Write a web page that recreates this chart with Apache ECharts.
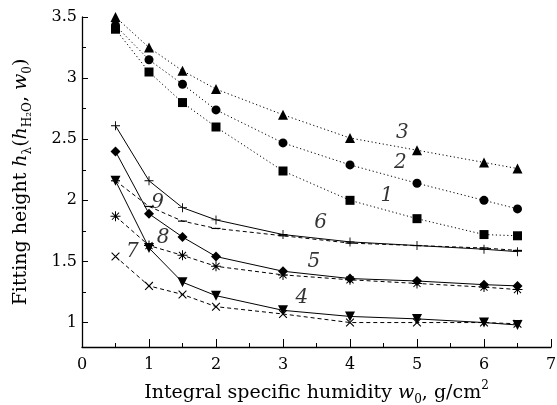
<!DOCTYPE html>
<html>
<head>
<meta charset="utf-8">
<script src="https://cdn.jsdelivr.net/npm/echarts@6/dist/echarts.min.js"></script>
<style>
  html, body { margin: 0; padding: 0; background: #fff; }
  #box { width: 557px; height: 405px; }
</style>
</head>
<body>
<div id="box"></div>
<script>
// humidity values w0 (shared by all curves)
const w0 = [0.5, 1, 1.5, 2, 3, 4, 5, 6, 6.5];

// fitting heights, curves 1..9
const curve1 = [3.40, 3.05, 2.80, 2.60, 2.24, 2.00, 1.85, 1.72, 1.71];
const curve2 = [3.43, 3.15, 2.95, 2.74, 2.47, 2.29, 2.14, 2.00, 1.93];
const curve3 = [3.50, 3.25, 3.06, 2.91, 2.70, 2.51, 2.41, 2.31, 2.26];
const curve4 = [2.16, 1.61, 1.33, 1.22, 1.10, 1.05, 1.03, 1.00, 0.98];
const curve5 = [2.40, 1.89, 1.70, 1.54, 1.42, 1.36, 1.34, 1.31, 1.30];
const curve6 = [2.61, 2.16, 1.94, 1.84, 1.72, 1.66, 1.63, 1.60, 1.58];
const curve7 = [1.54, 1.30, 1.23, 1.13, 1.07, 1.00, 1.00, 1.00, 0.99];
const curve8 = [1.87, 1.63, 1.55, 1.46, 1.39, 1.35, 1.32, 1.29, 1.27];
const curve9 = [2.16, 1.95, 1.83, 1.77, 1.71, 1.65, 1.63, 1.61, 1.59];

// curve numbers written on the plot: [text, w0, height]
const curveLabels = [
  ["1", 4.55, 2.04], ["2", 4.75, 2.31], ["3", 4.78, 2.55],
  ["4", 3.28, 1.20], ["5", 3.46, 1.50], ["6", 3.56, 1.82],
  ["7", 0.75, 1.58], ["8", 1.21, 1.69], ["9", 1.13, 1.98]
];

// y ticks
const yLabelTicks = [1, 1.5, 2, 2.5, 3, 3.5];
const yMinorTicks = [1.25, 1.75, 2.25, 2.75, 3.25];

const FONT = "DejaVu Serif";

// marker shapes
const PLUS = "path://M0,9H20V11H0Z M9,0H11V20H9Z";
const STAR = "path://M0,9H20V11H0Z M9,0H11V20H9Z M2.2,3.6L3.6,2.2L17.8,16.4L16.4,17.8Z M16.4,2.2L17.8,3.6L3.6,17.8L2.2,16.4Z";
const DASH = "path://M0,0H20V2H0Z";

const DOTTED = [1.2, 2.6];
const DASHED = [4, 3];

const pairs = (ys) => w0.map((x, i) => [x, ys[i]]);

const makeLine = (ys, lineType, symbol, size, rotate) => ({
  type: "line",
  data: pairs(ys),
  symbol: symbol,
  symbolSize: size,
  symbolRotate: rotate || 0,
  showSymbol: true,
  lineStyle: { color: "#000", width: 1, type: lineType },
  itemStyle: { color: "#000" },
  silent: true,
  animation: false,
  z: 2
});

// rich styles for the axis titles
const titleRich = {
  t: { fontFamily: FONT, fontSize: 19, color: "#000", lineHeight: 26 },
  i: { fontFamily: FONT, fontSize: 19, fontStyle: "italic", color: "#000", lineHeight: 26 },
  s: { fontFamily: FONT, fontSize: 12, color: "#000", lineHeight: 13, verticalAlign: "bottom" },
  p: { fontFamily: FONT, fontSize: 12, color: "#000", lineHeight: 13, verticalAlign: "top" }
};

const myChart = echarts.init(document.getElementById("box"));

const option = {
  backgroundColor: "#fff",
  animation: false,
  grid: { left: 82, right: 6, top: 17, bottom: 58, containLabel: false, outerBoundsMode: "none" },
  textStyle: { fontFamily: FONT, color: "#000" },
  xAxis: {
    type: "value",
    min: 0,
    max: 7,
    interval: 1,
    axisLine: { lineStyle: { color: "#000", width: 1.3 } },
    axisTick: { inside: true, length: 8, lineStyle: { color: "#000", width: 1 } },
    minorTick: { show: true, splitNumber: 2, length: 4, lineStyle: { color: "#000", width: 1 } },
    splitLine: { show: false },
    axisLabel: { fontFamily: FONT, fontSize: 16, color: "#000", margin: 10 },
    name: "{t|Integral specific humidity }{i|w}{s|0}{t|, g}{t|/}{t|cm}{p|2}",
    nameLocation: "middle",
    nameGap: 33,
    nameTextStyle: { rich: titleRich }
  },
  yAxis: [
    {
      type: "value",
      min: 0.8,
      max: 3.5,
      axisLine: { show: true, lineStyle: { color: "#000", width: 1.3 } },
      axisTick: { show: true, inside: true, length: 6, customValues: yLabelTicks, lineStyle: { color: "#000", width: 1 } },
      axisLabel: { fontFamily: FONT, fontSize: 16, color: "#000", margin: 5, customValues: yLabelTicks },
      splitLine: { show: false },
      name: "{t|Fitting height }{i|h}{s|λ}{t|(}{i|h}{s|H₂O}{t|, }{i|w}{s|0}{t|)}",
      nameLocation: "middle",
      nameGap: 48,
      nameRotate: 90,
      nameTextStyle: { rich: titleRich }
    },
    {
      // minor ticks only
      type: "value",
      min: 0.8,
      max: 3.5,
      position: "left",
      axisLine: { show: false },
      axisTick: { show: true, inside: true, length: 4, customValues: yMinorTicks, lineStyle: { color: "#000", width: 1 } },
      axisLabel: { show: false },
      splitLine: { show: false }
    }
  ],
  series: [
    makeLine(curve1, DOTTED, "rect", 9),
    makeLine(curve2, DOTTED, "circle", 9),
    makeLine(curve3, DOTTED, "triangle", 10),
    makeLine(curve9, DASHED, DASH, [9, 1.2]),
    makeLine(curve7, DASHED, PLUS, 11, 45),
    makeLine(curve8, DASHED, STAR, 10),
    makeLine(curve4, "solid", "triangle", 10, 180),
    makeLine(curve5, "solid", "diamond", 10),
    makeLine(curve6, "solid", PLUS, 9),
    {
      type: "scatter",
      data: curveLabels.map((d) => ({ name: d[0], value: [d[1], d[2]] })),
      symbolSize: 0,
      itemStyle: { color: "#000" },
      silent: true,
      z: 5,
      label: {
        show: true,
        position: "inside",
        formatter: "{b}",
        fontFamily: FONT,
        fontStyle: "italic",
        fontSize: 20,
        color: "#000",
        textBorderWidth: 0
      }
    }
  ]
};

option && myChart.setOption(option);
</script>
</body>
</html>
